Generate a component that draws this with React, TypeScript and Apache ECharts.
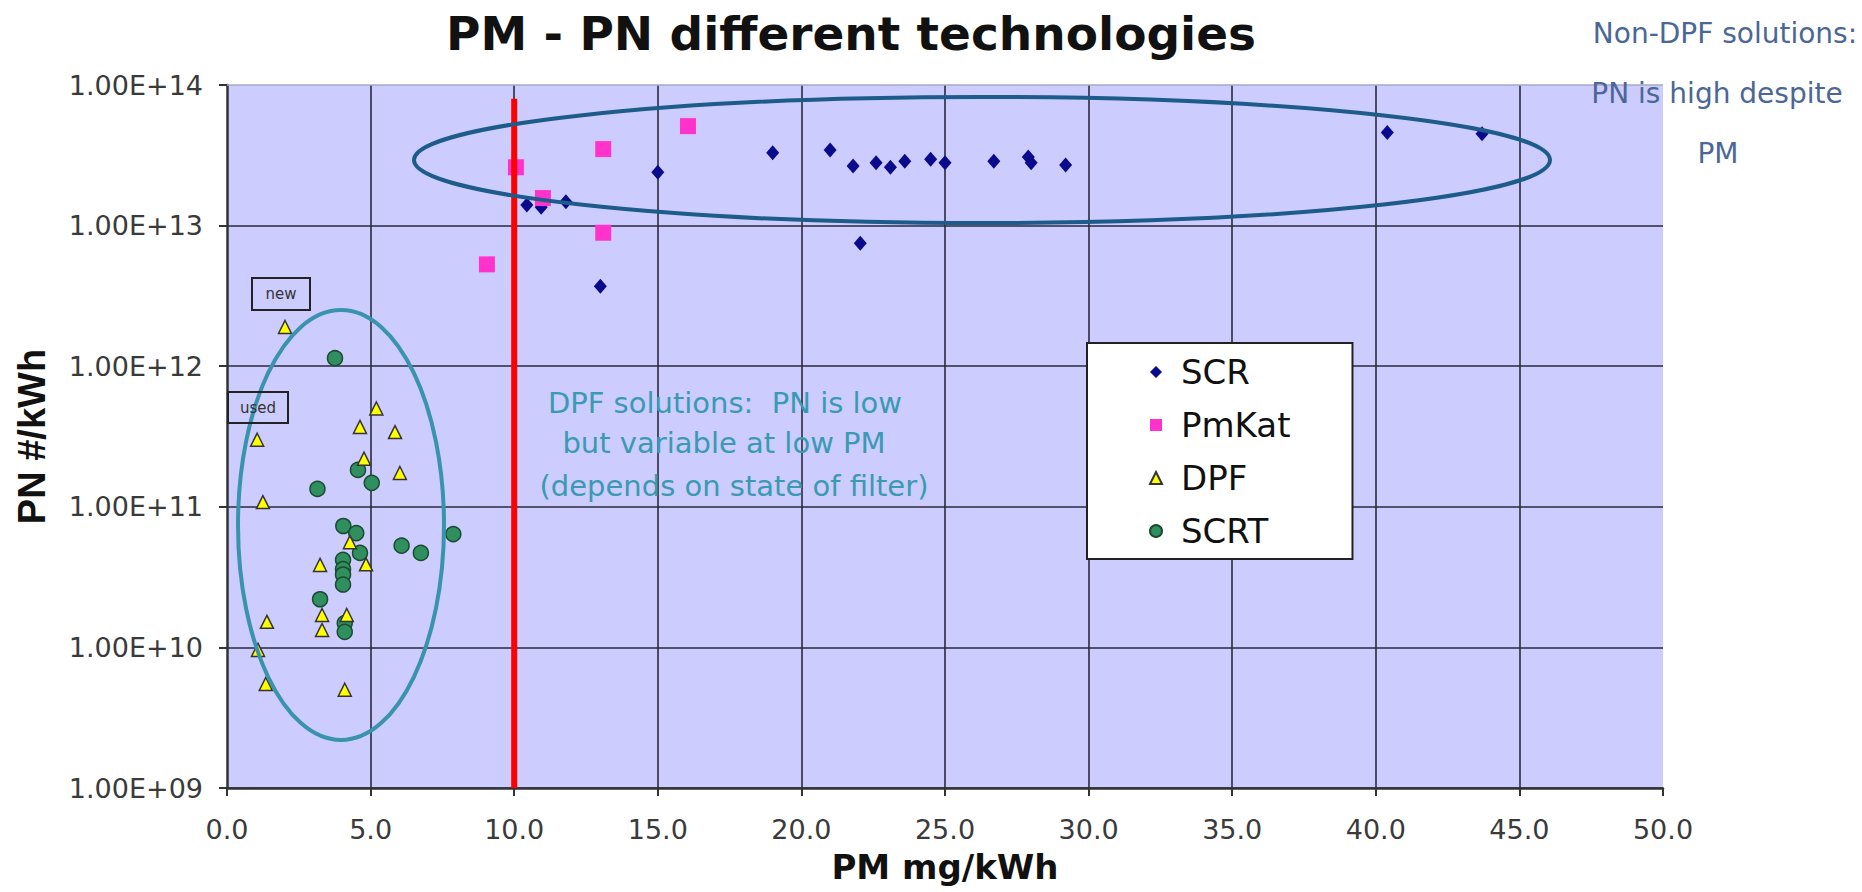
import React, { useEffect, useRef } from "react";
import * as echarts from "echarts";

// ---- data ----
const xTickLabels = ["0.0", "5.0", "10.0", "15.0", "20.0", "25.0", "30.0", "35.0", "40.0", "45.0", "50.0"];
const yTickLabels = ["1.00E+09", "1.00E+10", "1.00E+11", "1.00E+12", "1.00E+13", "1.00E+14"];

const scrPoints: [number, number][] = [
  [10.44, 1.4e13], [10.94, 1.35e13], [11.8, 1.48e13], [15.0, 2.4e13], [13.0, 3.7e12],
  [19.0, 3.3e13], [21.0, 3.45e13], [21.8, 2.65e13], [22.6, 2.8e13], [23.1, 2.6e13],
  [23.6, 2.87e13], [24.5, 2.97e13], [25.0, 2.8e13], [26.7, 2.87e13], [27.9, 3.07e13],
  [28.0, 2.8e13], [29.2, 2.7e13], [22.05, 7.5e12], [40.4, 4.6e13], [43.7, 4.5e13],
];
const pmKatPoints: [number, number][] = [
  [9.05, 5.3e12], [10.06, 2.6e13], [11.0, 1.57e13], [13.1, 3.5e13], [13.1, 8.9e12], [16.05, 5.1e13],
];
const dpfPoints: [number, number][] = [
  [2.02, 1.9e12], [5.2, 5.0e11], [4.63, 3.7e11], [5.85, 3.4e11], [1.05, 3.0e11],
  [4.77, 2.2e11], [6.02, 1.74e11], [1.25, 1.08e11], [4.28, 5.6e10], [3.24, 3.86e10],
  [4.84, 3.9e10], [1.39, 1.52e10], [3.31, 1.7e10], [3.31, 1.33e10], [4.17, 1.7e10],
  [1.08, 9.6e9], [1.35, 5.5e9], [4.1, 5.0e9],
];
const scrtPoints: [number, number][] = [
  [3.76, 1.14e12], [4.56, 1.83e11], [5.04, 1.48e11], [3.15, 1.34e11], [4.05, 7.3e10],
  [4.5, 6.5e10], [7.88, 6.4e10], [6.08, 5.3e10], [6.75, 4.7e10], [4.63, 4.7e10],
  [4.04, 4.2e10], [4.04, 3.6e10], [4.04, 3.3e10], [4.04, 2.8e10], [3.24, 2.2e10],
  [4.1, 1.49e10], [4.1, 1.29e10],
];
const limitLine: [number, number][] = [[10, 1e9], [10, 8e13]];

const legendNames = ["SCR", "PmKat", "DPF", "SCRT"];

const FONT = "DejaVu Sans";

export default function App() {
  const ref = useRef<HTMLDivElement>(null);

  useEffect(() => {
    document.body.style.margin = "0";
    if (!ref.current) return;
    const chart = echarts.init(ref.current, undefined, { renderer: "svg" });

    chart.setOption({
      animation: false,
      backgroundColor: "#ffffff",
      textStyle: { fontFamily: FONT },
      grid: {
        left: 227,
        right: 199,
        top: 85,
        bottom: 104,
        show: true,
        backgroundColor: "#ccccff",
        borderWidth: 0,
      },
      xAxis: {
        type: "value",
        min: 0,
        max: 50,
        interval: 5,
        name: "PM mg/kWh",
        nameLocation: "middle",
        nameGap: 62,
        nameTextStyle: { fontFamily: FONT, fontSize: 34, fontWeight: "bold", color: "#111" },
        axisLine: { show: true, lineStyle: { color: "#333", width: 2.5 } },
        axisTick: { show: true, inside: false, length: 8, lineStyle: { color: "#333", width: 2 } },
        axisLabel: {
          margin: 28,
          fontFamily: FONT,
          fontSize: 27,
          color: "#3a3a3a",
          formatter: (v: number) => xTickLabels[Math.round(v / 5)] ?? "",
        },
        splitLine: { show: true, showMinLine: false, showMaxLine: false, lineStyle: { color: "#2a2a3a", width: 1.6 } },
      },
      yAxis: {
        type: "log",
        logBase: 10,
        min: 1e9,
        max: 1e14,
        name: "PN #/kWh",
        nameLocation: "middle",
        nameGap: 176,
        nameTextStyle: { fontFamily: "Liberation Sans", fontSize: 38, fontWeight: "bold", color: "#111" },
        axisLine: { show: true, lineStyle: { color: "#333", width: 2.5 } },
        axisTick: { show: true, inside: false, length: 8, lineStyle: { color: "#333", width: 2 } },
        axisLabel: {
          margin: 24,
          fontFamily: FONT,
          fontSize: 27,
          color: "#3a3a3a",
          formatter: (v: number) => yTickLabels[Math.round(Math.log10(v)) - 9] ?? "",
        },
        splitLine: { show: true, showMinLine: false, showMaxLine: false, lineStyle: { color: "#2a2a3a", width: 1.6 } },
      },
      legend: {
        data: legendNames,
        orient: "vertical",
        left: 1087,
        top: 343,
        padding: [12, 62, 11, 62],
        itemGap: 19,
        itemWidth: 12,
        itemHeight: 12,
        backgroundColor: "#ffffff",
        borderColor: "#222",
        borderWidth: 2,
        textStyle: { fontFamily: FONT, fontSize: 34, lineHeight: 34, color: "#111", padding: [0, 0, 0, 14] },
      },
      series: [
        {
          name: "SCR",
          type: "scatter",
          data: scrPoints,
          symbol: "diamond",
          symbolSize: [13, 15],
          itemStyle: { color: "#0a0a8c", opacity: 1 },
        },
        {
          name: "PmKat",
          type: "scatter",
          data: pmKatPoints,
          symbol: "rect",
          symbolSize: 16,
          itemStyle: { color: "#ff33cc", opacity: 1 },
        },
        {
          name: "SCRT",
          type: "scatter",
          data: scrtPoints,
          symbol: "circle",
          symbolSize: 15,
          itemStyle: { color: "#2f8f5f", borderColor: "#1b4a30", borderWidth: 1.5, opacity: 1 },
        },
        {
          name: "DPF",
          type: "scatter",
          data: dpfPoints,
          symbol: "triangle",
          symbolSize: 13,
          itemStyle: { color: "#ffff00", borderColor: "#333", borderWidth: 1.5, opacity: 1 },
        },
        {
          name: "limit",
          type: "line",
          data: limitLine,
          symbol: "none",
          silent: true,
          lineStyle: { color: "#ff0000", width: 6 },
          z: 5,
        },
      ],
      graphic: [
        {
          type: "line",
          shape: { x1: 227, y1: 85, x2: 1663, y2: 85 },
          style: { stroke: "#a8a8c8", lineWidth: 1.5 },
          z: 1,
        },
        {
          type: "ellipse",
          shape: { cx: 982, cy: 160, rx: 568, ry: 63 },
          style: { fill: "none", stroke: "#1c5b8a", lineWidth: 4 },
          z: 100,
        },
        {
          type: "ellipse",
          shape: { cx: 341, cy: 525, rx: 103, ry: 215 },
          style: { fill: "none", stroke: "#3a93ad", lineWidth: 4 },
          z: 100,
        },
        {
          type: "text",
          x: 851,
          y: 33,
          style: {
            text: "PM - PN different technologies",
            fontFamily: FONT,
            fontSize: 47,
            fontWeight: "bold",
            fill: "#111",
            align: "center",
            verticalAlign: "middle",
          },
        },
        {
          type: "text",
          x: 1725,
          y: 33,
          style: { text: "Non-DPF solutions:", fontFamily: FONT, fontSize: 28, fill: "#4a6796", align: "center", verticalAlign: "middle" },
          z: 110,
        },
        {
          type: "text",
          x: 1717,
          y: 93,
          style: { text: "PN is high despite", fontFamily: FONT, fontSize: 28, fill: "#4a6796", align: "center", verticalAlign: "middle" },
          z: 110,
        },
        {
          type: "text",
          x: 1718,
          y: 153,
          style: { text: "PM", fontFamily: FONT, fontSize: 28, fill: "#4a6796", align: "center", verticalAlign: "middle" },
          z: 110,
        },
        {
          type: "text",
          x: 725,
          y: 403,
          style: { text: "DPF solutions:  PN is low", fontFamily: FONT, fontSize: 29, fill: "#3a9ab2", align: "center", verticalAlign: "middle" },
          z: 110,
        },
        {
          type: "text",
          x: 724,
          y: 443,
          style: { text: "but variable at low PM", fontFamily: FONT, fontSize: 29, fill: "#3a9ab2", align: "center", verticalAlign: "middle" },
          z: 110,
        },
        {
          type: "text",
          x: 734,
          y: 486,
          style: { text: "(depends on state of filter)", fontFamily: FONT, fontSize: 29, fill: "#3a9ab2", align: "center", verticalAlign: "middle" },
          z: 110,
        },
        {
          type: "rect",
          shape: { x: 252, y: 278, width: 58, height: 32 },
          style: { fill: "rgba(0,0,0,0)", stroke: "#222", lineWidth: 2 },
          z: 100,
        },
        {
          type: "text",
          x: 281,
          y: 294,
          style: { text: "new", fontFamily: FONT, fontSize: 15, fill: "#333", align: "center", verticalAlign: "middle" },
          z: 101,
        },
        {
          type: "rect",
          shape: { x: 228, y: 392, width: 60, height: 31 },
          style: { fill: "rgba(0,0,0,0)", stroke: "#222", lineWidth: 2 },
          z: 100,
        },
        {
          type: "text",
          x: 258,
          y: 408,
          style: { text: "used", fontFamily: FONT, fontSize: 15, fill: "#333", align: "center", verticalAlign: "middle" },
          z: 101,
        },
      ],
    });

    return () => {
      chart.dispose();
    };
  }, []);

  return <div ref={ref} style={{ width: 1862, height: 892 }} />;
}
